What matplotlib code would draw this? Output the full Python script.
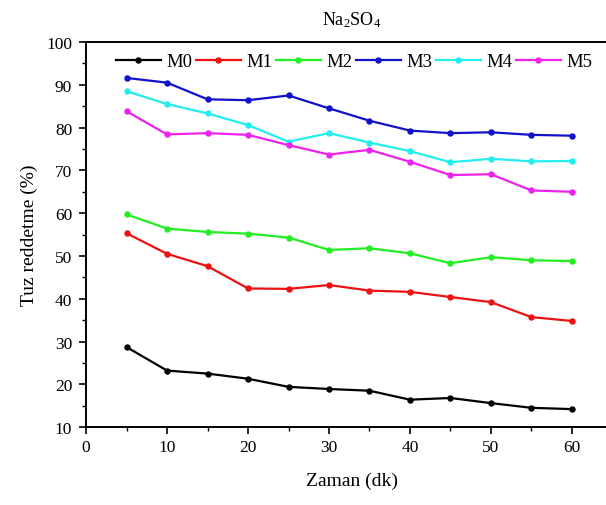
import matplotlib
matplotlib.use("Agg")
import matplotlib.pyplot as plt
from matplotlib.ticker import MultipleLocator

plt.rcParams["font.family"] = ["Liberation Serif", "DejaVu Serif"]
plt.rcParams["mathtext.fontset"] = "custom"
plt.rcParams["mathtext.rm"] = "Liberation Serif"
plt.rcParams["mathtext.it"] = "Liberation Serif:italic"

time = [5, 10, 15, 20, 25, 30, 35, 40, 45, 50, 55, 60]
labels = ["M0", "M1", "M2", "M3", "M4", "M5"]
m0 = [28.7, 23.2, 22.5, 21.3, 19.4, 18.9, 18.5, 16.4, 16.8, 15.6, 14.5, 14.2]
m1 = [55.3, 50.5, 47.6, 42.4, 42.3, 43.2, 41.9, 41.6, 40.4, 39.2, 35.7, 34.8]
m2 = [59.7, 56.4, 55.6, 55.2, 54.3, 51.4, 51.8, 50.6, 48.3, 49.7, 49.0, 48.8]
m3 = [91.6, 90.5, 86.6, 86.4, 87.5, 84.5, 81.6, 79.3, 78.7, 78.9, 78.3, 78.1]
m4 = [88.5, 85.5, 83.3, 80.6, 76.7, 78.7, 76.5, 74.5, 71.9, 72.7, 72.1, 72.2]
m5 = [83.8, 78.4, 78.7, 78.3, 75.9, 73.7, 74.8, 72.0, 68.9, 69.1, 65.3, 65.0]
series = [m0, m1, m2, m3, m4, m5]
colors = ["#000000", "#ee1111", "#22ee22", "#1111cc", "#22eeee", "#ee22ee"]

fig = plt.figure(figsize=(6.06, 5.06), dpi=100)
ax = fig.add_axes([0.142, 0.154, 0.878, 0.761])

for lab, ys, c in zip(labels, series, colors):
    ax.plot(time, ys, color=c, lw=1.6, marker="o", ms=3.6, label=lab)

ax.set_xlim(0, 65.7)
ax.set_ylim(10, 100)
ax.xaxis.set_major_locator(MultipleLocator(10))
ax.xaxis.set_minor_locator(MultipleLocator(5))
ax.yaxis.set_major_locator(MultipleLocator(10))
ax.yaxis.set_minor_locator(MultipleLocator(5))
ax.tick_params(which="major", direction="out", length=5, width=1.2, labelsize=12.5)
ax.tick_params(axis="y", which="major", pad=5)
ax.tick_params(which="minor", direction="out", length=3, width=1.0)
for s in ax.spines.values():
    s.set_linewidth(1.4)
ax.spines["right"].set_visible(False)

ax.set_xlabel("Zaman (dk)", fontsize=14, labelpad=12)
ax.set_ylabel("Tuz reddetme (%)", fontsize=14, labelpad=6)
ax.set_title(r"Na$_2$SO$_4$", fontsize=13, pad=13)

ax.legend(loc="upper left", bbox_to_anchor=(0.035, 1.0), ncol=6, frameon=False,
          fontsize=13.5, handlelength=2.4, handletextpad=0.32, columnspacing=0.16,
          borderaxespad=0.2)

fig.savefig("out.png", dpi=100)
